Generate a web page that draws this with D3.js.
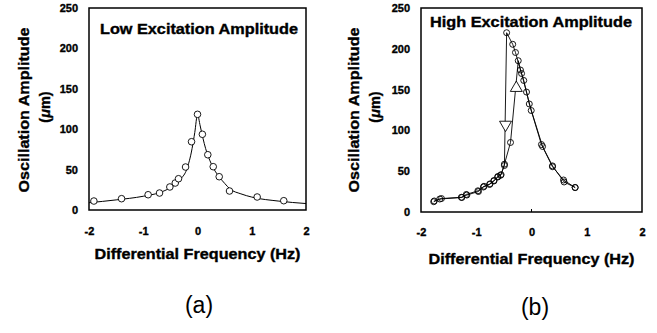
<!DOCTYPE html>
<html><head><meta charset="utf-8">
<script src="https://cdn.jsdelivr.net/npm/d3@7"></script>
<style>
body{margin:0;background:#fff}
svg{display:block}
text{font-family:"Liberation Sans",Arial,Helvetica,sans-serif}
.heavy{stroke:#000;stroke-width:0.35px}
</style>
</head><body>
<svg id="c" width="657" height="333"></svg>
<script>
// ---- data ----
const xTicks = [-2, -1, 0, 1, 2];
const yTicks = [0, 50, 100, 150, 200, 250];

// (a) low excitation: measured points
const lowX = [-1.91, -1.40, -0.91, -0.70, -0.51, -0.41, -0.35, -0.22, -0.11, 0.00, 0.09, 0.19, 0.29, 0.40, 0.59, 1.10, 1.59];
const lowY = [11.1, 14.0, 18.9, 21.0, 28.5, 33.4, 38.7, 53.2, 84.5, 118.4, 93.7, 68.4, 53.6, 41.2, 23.5, 16.1, 11.5];
// (a) fitted curve
const lowFitX = [-2, -1.5, -1, -0.7, -0.5, -0.4, -0.3, -0.2, -0.1, -0.05, 0, 0.05, 0.1, 0.15, 0.2, 0.3, 0.4, 0.5, 0.6, 0.8, 1.0, 1.5, 2.0];
const lowFitY = [9, 12.5, 17, 21.5, 27.5, 32, 39, 50, 76, 96, 118, 104, 89, 76, 66, 51, 41, 33, 26, 20, 16, 11, 8];

// (b) high excitation: forward (increasing frequency) sweep
const upX = [-1.77, -1.66, -1.26, -1.17, -0.96, -0.87, -0.76, -0.68, -0.61, -0.55, -0.49, -0.38, -0.24, -0.18, -0.09, -0.005, 0.18, 0.38, 0.58, 0.79];
const upY = [12.6, 15.9, 17.8, 20.8, 25.1, 30.6, 33.7, 38.6, 42.9, 45.7, 58.6, 85.2, 185.4, 169.7, 147, 124.4, 82.7, 55.5, 39.2, 30];
// (b) backward (decreasing frequency) sweep
const downX = [0.79, 0.59, 0.38, 0.20, -0.04, -0.14, -0.20, -0.29, -0.34, -0.45, -0.49, -0.56, -0.61, -0.68, -0.75, -0.86, -0.97, -1.18, -1.27, -1.63, -1.76];
const downY = [30, 36.8, 56.5, 80.3, 132.4, 161.2, 174, 195.5, 205.5, 219.7, 57, 45, 43.5, 38, 34.5, 31.5, 26, 21.5, 18, 16.5, 13.5];
// (b) sweep direction arrows
const arrowX = [-0.47, -0.275];
const arrowY = [107, 152];
const arrowDir = ["down", "up"];

const titles = ["Low Excitation Amplitude", "High Excitation Amplitude"];
const panelLabels = ["(a)", "(b)"];

// ---- drawing ----
const svg = d3.select("#c");
svg.append("rect").attr("width", 657).attr("height", 333).attr("fill", "#fff");

function panel(o) {
  const x = d3.scaleLinear().domain([-2, 2]).range([o.x0, o.x1]);
  const y = d3.scaleLinear().domain([0, 250]).range([o.yb, o.yt]);
  const g = svg.append("g");

  // y axis labels
  const ya = g.append("g").attr("transform", `translate(${o.x0},0)`)
    .call(d3.axisLeft(y).tickValues(yTicks).tickSize(0).tickPadding(11));
  ya.select(".domain").remove();
  ya.selectAll("text").attr("font-size", 11).attr("font-weight", "bold").attr("class", "heavy")
    .attr("font-family", '"Liberation Sans",Arial,sans-serif');

  // x axis labels
  const xa = g.append("g").attr("transform", `translate(0,${o.yb})`)
    .call(d3.axisBottom(x).tickValues(xTicks).tickSize(0).tickPadding(o.xpad)
      .tickFormat(d => d < 0 ? "-" + Math.abs(d) : d));
  xa.select(".domain").remove();
  xa.selectAll("text").attr("font-size", 11).attr("font-weight", "bold").attr("class", "heavy")
    .attr("font-family", '"Liberation Sans",Arial,sans-serif');

  // frame
  g.append("rect").attr("x", o.x0).attr("y", o.yt)
    .attr("width", o.x1 - o.x0).attr("height", o.yb - o.yt)
    .attr("fill", "none").attr("stroke", "#000").attr("stroke-width", 1.5);

  // y title
  g.append("text").attr("class", "heavy").attr("transform", `translate(${o.yt1x},110) rotate(-90)`)
    .attr("text-anchor", "middle").attr("font-size", 14.5).attr("font-weight", "bold")
    .attr("textLength", 165).attr("lengthAdjust", "spacingAndGlyphs")
    .text("Oscillation Amplitude");
  const t2 = g.append("text").attr("class", "heavy").attr("transform", `translate(${o.yt2x},107) rotate(-90)`)
    .attr("text-anchor", "middle").attr("font-size", 14.5).attr("font-weight", "bold");
  t2.append("tspan").text("(");
  t2.append("tspan").attr("font-style", "italic").text("\u03bc");
  t2.append("tspan").text("m)");

  // x title
  g.append("text").attr("class", "heavy").attr("x", (o.x0 + o.x1) / 2).attr("y", o.xtY)
    .attr("text-anchor", "middle").attr("font-size", 14.5).attr("font-weight", "bold")
    .attr("textLength", 206).attr("lengthAdjust", "spacingAndGlyphs")
    .text("Differential Frequency (Hz)");

  // chart title
  g.append("text").attr("class", "heavy").attr("x", o.tx).attr("y", o.ty)
    .attr("text-anchor", "middle").attr("font-size", 14).attr("font-weight", "bold")
    .attr("textLength", o.tl).attr("lengthAdjust", "spacingAndGlyphs")
    .text(o.title);

  // panel label
  g.append("text").attr("x", o.lx).attr("y", o.ly)
    .attr("text-anchor", "middle").attr("font-size", 23)
    .text(o.label);

  return {g, x, y};
}

// Panel (a)
const A = panel({x0: 89, x1: 306, yt: 8, yb: 210, xpad: 17, yt1x: 29, yt2x: 50, xtY: 259,
  tx: 199, ty: 34, tl: 198, title: titles[0], lx: 199, ly: 313, label: panelLabels[0]});
const fitLine = d3.line().x(d => A.x(d[0])).y(d => A.y(d[1])).curve(d3.curveMonotoneX);
A.g.append("path").datum(lowFitX.map((v, i) => [v, lowFitY[i]]))
  .attr("d", fitLine).attr("fill", "none").attr("stroke", "#000").attr("stroke-width", 1);
A.g.selectAll("circle.p").data(lowX.map((v, i) => [v, lowY[i]])).join("circle")
  .attr("cx", d => A.x(d[0])).attr("cy", d => A.y(d[1])).attr("r", 3.3)
  .attr("fill", "#fff").attr("stroke", "#000").attr("stroke-width", 0.9);

// Panel (b)
const B = panel({x0: 421, x1: 642, yt: 8, yb: 212, xpad: 16, yt1x: 359, yt2x: 380, xtY: 264,
  tx: 531, ty: 27, tl: 202, title: titles[1], lx: 535, ly: 315, label: panelLabels[1]});
// small tick at x = 0
B.g.append("line").attr("x1", B.x(0)).attr("x2", B.x(0)).attr("y1", 212).attr("y2", 209)
  .attr("stroke", "#000").attr("stroke-width", 1);
const lin = d3.line().x(d => B.x(d[0])).y(d => B.y(d[1]));
[[upX, upY], [downX, downY]].forEach(([xs, ys]) => {
  const pts = xs.map((v, i) => [v, ys[i]]);
  B.g.append("path").datum(pts).attr("d", lin)
    .attr("fill", "none").attr("stroke", "#000").attr("stroke-width", 0.9);
});
[[upX, upY], [downX, downY]].forEach(([xs, ys]) => {
  const pts = xs.map((v, i) => [v, ys[i]]);
  B.g.append("g").selectAll("circle").data(pts).join("circle")
    .attr("cx", d => B.x(d[0])).attr("cy", d => B.y(d[1])).attr("r", 3)
    .attr("fill", "none").attr("stroke", "#000").attr("stroke-width", 0.9);
});
const tri = d3.symbol().type(d3.symbolTriangle).size(62);
B.g.selectAll("path.arrow").data(arrowX.map((v, i) => [v, arrowY[i], arrowDir[i]])).join("path")
  .attr("class", "arrow")
  .attr("transform", d => `translate(${B.x(d[0])},${B.y(d[1])}) rotate(${d[2] === "down" ? 180 : 0})`)
  .attr("d", tri()).attr("fill", "#fff").attr("stroke", "#000").attr("stroke-width", 0.9);
</script>
</body></html>
